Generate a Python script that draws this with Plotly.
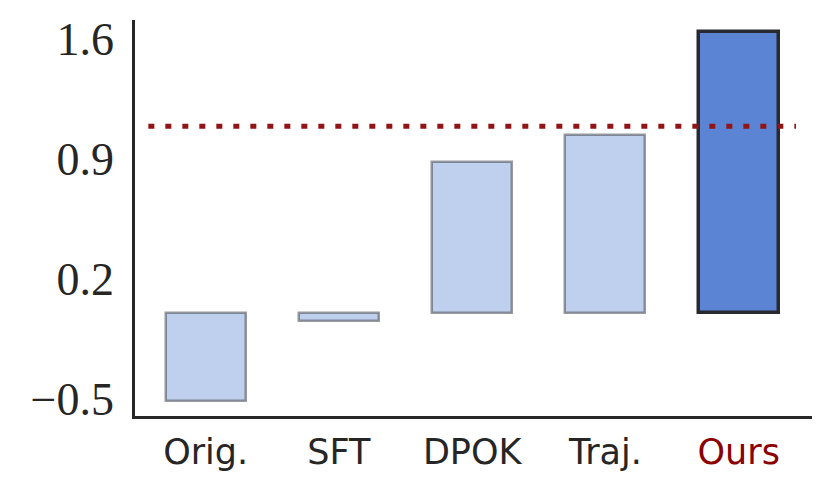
import plotly.graph_objects as go

categories = ["Orig.", "SFT", "DPOK", "Traj.", "Ours"]
values = [-0.51, -0.045, 0.88, 1.04, 1.64]
reference_value = 1.09
ytick_vals = [-0.5, 0.2, 0.9, 1.6]
ytick_text = ["\u22120.5", "0.2", "0.9", "1.6"]
highlight = "Ours"

positions = list(range(len(categories)))
light_fill = "rgb(190,208,237)"
dark_fill = "rgb(91,133,212)"
fills = [dark_fill if c == highlight else light_fill for c in categories]
edge_cols = ["rgb(40,42,48)" if c == highlight else "rgba(70,72,80,0.55)" for c in categories]
edge_w = [3.5 if c == highlight else 2.5 for c in categories]

fig = go.Figure()
for p, v, f, ec, ew in zip(positions, values, fills, edge_cols, edge_w):
    fig.add_trace(go.Bar(x=[p], y=[v], width=0.6, marker=dict(color=f, line=dict(color=ec, width=ew)),
                         showlegend=False, hoverinfo="skip"))

fig.add_trace(go.Scatter(x=[positions[0] - 0.43, positions[-1] + 0.43], y=[reference_value, reference_value],
                         mode="lines", line=dict(color="rgb(145,20,22)", width=5, dash="6px,11px"),
                         showlegend=False, hoverinfo="skip"))

ticktext_x = [f"<span style='color:rgb(139,0,0)'>{c}</span>" if c == highlight else c for c in categories]

fig.update_layout(
    width=831, height=498,
    margin=dict(l=127, r=27, t=6, b=90),
    plot_bgcolor="white", paper_bgcolor="white",
    bargap=0,
    xaxis=dict(range=[-0.53, 4.55], tickvals=positions, ticktext=ticktext_x,
               showgrid=False, zeroline=False, showline=True, linecolor="#262626", linewidth=2.5,
               ticks="", ticklen=0, ticklabelstandoff=3,
               tickfont=dict(family="DejaVu Sans", size=35, color="#262626")),
    yaxis=dict(range=[-0.6, 1.71], tickvals=ytick_vals, ticktext=ytick_text,
               showgrid=False, zeroline=False, showline=True, linecolor="#262626", linewidth=2.5,
               ticks="", ticklen=0, ticklabelstandoff=9,
               tickfont=dict(family="Liberation Serif", size=46, color="#262626")),
)

fig.write_html("out.html")
